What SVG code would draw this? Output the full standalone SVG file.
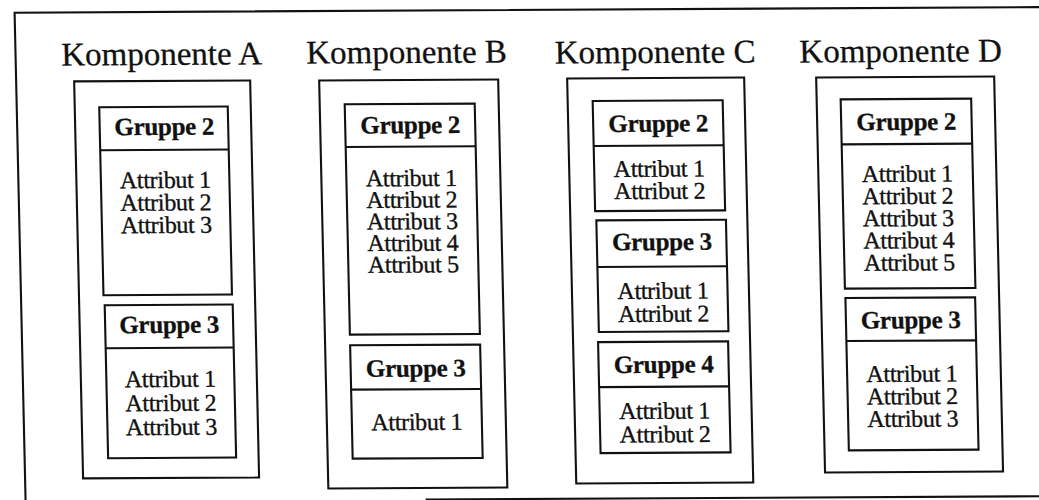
<svg xmlns="http://www.w3.org/2000/svg" width="1039" height="500" viewBox="0 0 1039 500">
<style>
.frame{fill:none;stroke:#111;stroke-width:2.1}
.box{fill:none;stroke:#111;stroke-width:2.1}
.div{stroke:#111;stroke-width:2.1}
.title{font-family:"Liberation Serif","Times New Roman",serif;font-size:33px;fill:#111;text-anchor:middle;stroke:#111;stroke-width:0.3}
.grp{font-family:"Liberation Serif","Times New Roman",serif;font-size:25px;font-weight:bold;fill:#111;text-anchor:middle;letter-spacing:-0.3px;stroke:#111;stroke-width:0.3}
.attr{font-family:"Liberation Serif","Times New Roman",serif;font-size:24px;fill:#111;text-anchor:middle;letter-spacing:-0.3px;stroke:#111;stroke-width:0.35}
</style>
<rect width="1039" height="500" fill="#fff"/>
<g transform="translate(520 250) matrix(1 -0.0054 0.0225 1 0 0) translate(-520 -250)">
<g id="frame">
<path class="frame" d="M1050,10 H20 V515"/>
<line class="frame" x1="420" y1="499" x2="1050" y2="499"/>
</g>
<g id="connectors"></g>

<g id="komponente-a">
<text class="title" x="166" y="63">Komponente A</text>
<rect class="box" x="78" y="79" width="176" height="397"/>
<g id="a-gruppe2">
<rect class="box" x="102.5" y="105" width="128.5" height="188"/>
<line class="div" x1="102.5" y1="148" x2="231" y2="148"/>
<text class="grp" x="167" y="133">Gruppe 2</text>
<text class="attr" x="167" y="186">Attribut 1</text>
<text class="attr" x="167" y="208.5">Attribut 2</text>
<text class="attr" x="167" y="231">Attribut 3</text>
</g>
<g id="a-gruppe3">
<rect class="box" x="103.5" y="303" width="128" height="153"/>
<line class="div" x1="103.5" y1="346" x2="231.5" y2="346"/>
<text class="grp" x="167.5" y="331">Gruppe 3</text>
<text class="attr" x="167.5" y="385">Attribut 1</text>
<text class="attr" x="167.5" y="409">Attribut 2</text>
<text class="attr" x="167.5" y="433">Attribut 3</text>
</g>
</g>

<g id="komponente-b">
<text class="title" x="411" y="62.4">Komponente B</text>
<rect class="box" x="323" y="79.4" width="179" height="408"/>
<g id="b-gruppe2">
<rect class="box" x="348" y="103.4" width="130" height="230.3"/>
<line class="div" x1="348" y1="146" x2="478" y2="146"/>
<text class="grp" x="413" y="132.7">Gruppe 2</text>
<text class="attr" x="413" y="185.5">Attribut 1</text>
<text class="attr" x="413" y="207.1">Attribut 2</text>
<text class="attr" x="413" y="228.7">Attribut 3</text>
<text class="attr" x="413" y="250.3">Attribut 4</text>
<text class="attr" x="413" y="271.9">Attribut 5</text>
</g>
<g id="b-gruppe3">
<rect class="box" x="348" y="344.4" width="130" height="113.3"/>
<line class="div" x1="348" y1="388.7" x2="478" y2="388.7"/>
<text class="grp" x="413" y="376">Gruppe 3</text>
<text class="attr" x="413" y="429.4">Attribut 1</text>
</g>
</g>

<g id="komponente-c">
<text class="title" x="659.5" y="63.7">Komponente C</text>
<rect class="box" x="571" y="78.8" width="177" height="405"/>
<g id="c-gruppe2">
<rect class="box" x="596" y="101.4" width="130" height="110.1"/>
<line class="div" x1="596" y1="146.4" x2="726" y2="146.4"/>
<text class="grp" x="661" y="132.4">Gruppe 2</text>
<text class="attr" x="661" y="177.4">Attribut 1</text>
<text class="attr" x="661" y="199.6">Attribut 2</text>
</g>
<g id="c-gruppe3">
<rect class="box" x="597" y="220.8" width="129.6" height="111.6"/>
<line class="div" x1="597" y1="267.4" x2="726.6" y2="267.4"/>
<text class="grp" x="662" y="250.8">Gruppe 3</text>
<text class="attr" x="662" y="299.5">Attribut 1</text>
<text class="attr" x="662" y="322.5">Attribut 2</text>
</g>
<g id="c-gruppe4">
<rect class="box" x="596" y="342.5" width="130" height="111"/>
<line class="div" x1="596" y1="387.5" x2="726" y2="387.5"/>
<text class="grp" x="661" y="373.5">Gruppe 4</text>
<text class="attr" x="661" y="419.5">Attribut 1</text>
<text class="attr" x="661" y="443">Attribut 2</text>
</g>
</g>

<g id="komponente-d">
<text class="title" x="905" y="64">Komponente D</text>
<rect class="box" x="820" y="79.1" width="178" height="395"/>
<g id="d-gruppe2">
<rect class="box" x="844" y="101.1" width="130.5" height="189.3"/>
<line class="div" x1="844" y1="146.1" x2="974.5" y2="146.1"/>
<text class="grp" x="909" y="132.1">Gruppe 2</text>
<text class="attr" x="909" y="183.8">Attribut 1</text>
<text class="attr" x="909" y="206">Attribut 2</text>
<text class="attr" x="909" y="228.2">Attribut 3</text>
<text class="attr" x="909" y="250.4">Attribut 4</text>
<text class="attr" x="909" y="272.6">Attribut 5</text>
</g>
<g id="d-gruppe3">
<rect class="box" x="844.3" y="299.8" width="129.7" height="152.3"/>
<line class="div" x1="844.3" y1="342.8" x2="974" y2="342.8"/>
<text class="grp" x="909" y="330.4">Gruppe 3</text>
<text class="attr" x="909" y="383.8">Attribut 1</text>
<text class="attr" x="909" y="406.3">Attribut 2</text>
<text class="attr" x="909" y="428.8">Attribut 3</text>
</g>
</g>
</g>
</svg>
